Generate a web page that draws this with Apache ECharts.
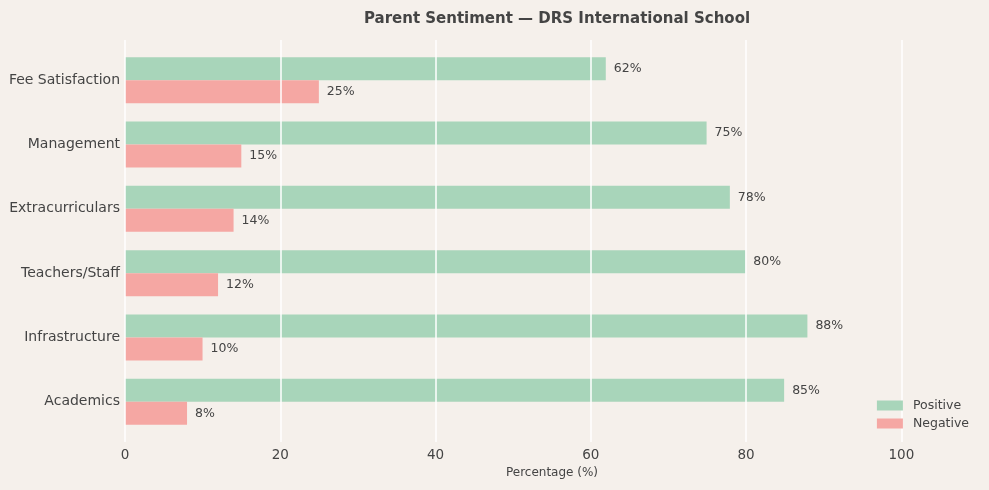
<!DOCTYPE html>
<html><head><meta charset="utf-8">
<script src="https://cdn.jsdelivr.net/npm/echarts@6/dist/echarts.min.js"></script>
<style>html,body{margin:0;padding:0;background:#f5f0eb;}#c{width:989px;height:490px;}</style>
</head><body><div id="c"></div>
<script>
const categories = ['Academics', 'Infrastructure', 'Teachers/Staff', 'Extracurriculars', 'Management', 'Fee Satisfaction'];
const positive = [85, 88, 80, 78, 75, 62];
const negative = [8, 10, 12, 14, 15, 25];
const xTicks = [0, 20, 40, 60, 80, 100];

const font = 'DejaVu Sans';
const chart = echarts.init(document.getElementById('c'));
chart.setOption({
  backgroundColor: '#f5f0eb',
  textStyle: { fontFamily: font },
  title: {
    text: 'Parent Sentiment — DRS International School',
    left: 552, top: 7, textAlign: 'center',
    textStyle: { fontFamily: font, fontSize: 15, fontWeight: 'bold', color: '#444' }
  },
  legend: {
    data: ['Positive', 'Negative'],
    orient: 'vertical', right: 15, top: 394, z: 10,
    itemWidth: 26, itemHeight: 10, itemGap: 5,
    icon: 'rect',
    textStyle: { fontFamily: font, fontSize: 12.5, color: '#444', padding: [0, 0, 0, 5] }
  },
  grid: [
    { left: 125, right: 11, top: 48, bottom: 56 },
    { left: 125, right: 10, top: 40, bottom: 48 }
  ],
  xAxis: [
    { gridIndex: 0, type: 'value', min: 0, max: 110, show: false },
    { gridIndex: 1, type: 'value', min: 0, max: 110, interval: 20, z: 5,
      axisLine: { show: false }, axisTick: { show: false },
      axisLabel: { fontFamily: font, fontSize: 13.5, color: '#444', margin: 6, showMaxLabel: false,
        formatter: v => xTicks.includes(v) ? String(v) : '' },
      splitLine: { show: true, showMaxLine: false, lineStyle: { color: '#ffffff', width: 1.5 } },
      name: 'Percentage (%)', nameLocation: 'middle', nameGap: 22,
      nameTextStyle: { fontFamily: font, fontSize: 12, color: '#444' } }
  ],
  yAxis: [
    { gridIndex: 0, type: 'category', data: categories,
      axisLine: { show: false }, axisTick: { show: false }, splitLine: { show: false },
      axisLabel: { fontFamily: font, fontSize: 14, color: '#444', margin: 5 } },
    { gridIndex: 1, type: 'value', show: false }
  ],
  series: [
    { name: 'Positive', type: 'bar', xAxisIndex: 0, yAxisIndex: 0, data: positive,
      barWidth: 23, barGap: '0%', itemStyle: { color: '#a8d5ba' },
      label: { show: true, position: 'right', distance: 8, formatter: '{c}%', fontFamily: font, fontSize: 12.5, color: '#444' } },
    { name: 'Negative', type: 'bar', xAxisIndex: 0, yAxisIndex: 0, data: negative,
      barWidth: 23, barGap: '0%', itemStyle: { color: '#f5a7a3' },
      label: { show: true, position: 'right', distance: 8, formatter: '{c}%', fontFamily: font, fontSize: 12.5, color: '#444' } }
  ]
});
</script></body></html>
